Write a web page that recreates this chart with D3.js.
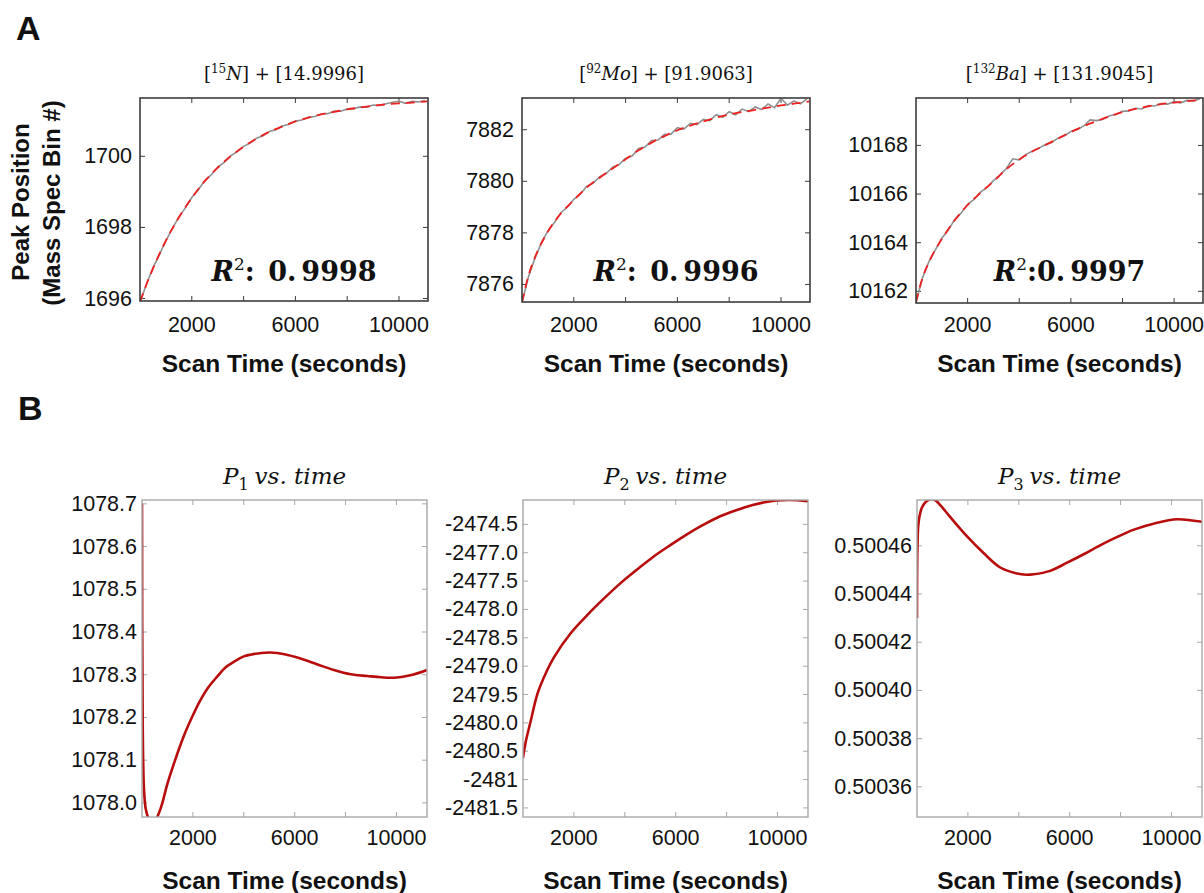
<!DOCTYPE html>
<html><head><meta charset="utf-8">
<script src="https://cdn.jsdelivr.net/npm/d3@7"></script>
<style>
html,body{margin:0;padding:0;background:#fff;}
svg{display:block;}
</style></head>
<body>
<svg id="chart" width="1204" height="893"></svg>
<script>
// ---------------- DATA ----------------
// Panel A: observed (gray) and fitted (red) peak positions
const obsTime = [0,250,500,750,1000,1250,1500,1750,2000,2250,2500,2750,3000,3250,3500,3750,4000,4250,4500,4750,5000,5250,5500,5750,6000,6250,6500,6750,7000,7250,7500,7750,8000,8250,8500,8750,9000,9250,9500,9750,10000,10250,10500,10750,11000];
const fitTime = [0,250,500,1000,1500,2000,2500,3000,3500,4000,4500,5000,5500,6000,6500,7000,7500,8000,8500,9000,9500,10000,10500,11000,11100];

const n15Obs = [1695.90,1696.40,1696.86,1697.24,1697.62,1697.97,1698.29,1698.55,1698.84,1699.06,1699.31,1699.48,1699.69,1699.83,1700.01,1700.13,1700.28,1700.37,1700.51,1700.58,1700.70,1700.75,1700.85,1700.90,1700.99,1701.02,1701.10,1701.12,1701.19,1701.20,1701.27,1701.27,1701.33,1701.34,1701.39,1701.38,1701.44,1701.43,1701.48,1701.52,1701.55,1701.49,1701.55,1701.53,1701.57];
const n15Fit = [1695.90,1696.40,1696.84,1697.63,1698.28,1698.83,1699.30,1699.68,1700.00,1700.27,1700.50,1700.69,1700.84,1700.98,1701.09,1701.18,1701.25,1701.32,1701.37,1701.42,1701.46,1701.49,1701.51,1701.54,1701.545];

const mo92Obs = [7875.30,7876.30,7877.02,7877.62,7878.08,7878.40,7878.78,7879.00,7879.30,7879.50,7879.80,7879.93,7880.18,7880.30,7880.55,7880.65,7880.90,7880.98,7881.27,7881.33,7881.58,7881.60,7881.82,7881.83,7882.08,7882.02,7882.25,7882.20,7882.40,7882.35,7882.58,7882.48,7882.70,7882.58,7882.80,7882.70,7882.88,7882.78,7883.00,7882.85,7883.22,7882.95,7883.12,7883.00,7883.20];
const mo92Fit = [7875.30,7876.35,7877.05,7878.05,7878.75,7879.27,7879.76,7880.14,7880.50,7880.85,7881.20,7881.50,7881.75,7881.98,7882.16,7882.32,7882.47,7882.59,7882.69,7882.77,7882.86,7882.94,7883.01,7883.08,7883.10];

const ba132Obs = [10161.55,10162.55,10163.22,10163.70,10164.18,10164.52,10164.95,10165.22,10165.58,10165.78,10166.08,10166.27,10166.55,10166.78,10167.05,10167.45,10167.40,10167.62,10167.76,10167.88,10168.03,10168.12,10168.30,10168.40,10168.57,10168.65,10168.80,10169.05,10169.02,10169.08,10169.22,10169.27,10169.40,10169.42,10169.53,10169.50,10169.64,10169.62,10169.72,10169.70,10169.80,10169.75,10169.85,10169.83,10169.92];
const ba132Fit = [10161.55,10162.55,10163.20,10164.15,10164.92,10165.55,10166.05,10166.52,10167.02,10167.42,10167.75,10168.01,10168.28,10168.55,10168.79,10169.00,10169.20,10169.37,10169.50,10169.61,10169.70,10169.76,10169.82,10169.87,10169.88];

const rSquared = ["0.9998","0.9996","0.9997"];
const yTicksA = [[1696,1698,1700],[7876,7878,7880,7882],[10162,10164,10166,10168]];

// Panel B: parameters vs. time
const p1Time = [0,30,80,150,250,400,550,750,1000,1300,1632,2000,2290,2600,2946,3300,3603,4000,4260,4700,5047,5600,6229,6900,7542,8200,8855,9400,9906,10500,11200];
const p1Vals = [1078.70,1078.17,1078.03,1077.985,1077.965,1077.955,1077.962,1077.99,1078.045,1078.10,1078.155,1078.205,1078.24,1078.27,1078.295,1078.318,1078.33,1078.343,1078.347,1078.351,1078.352,1078.348,1078.338,1078.324,1078.311,1078.301,1078.297,1078.294,1078.293,1078.298,1078.311];

const p2Time = [0,100,312,573,900,1222,1873,2524,3174,3824,4474,5124,5775,6427,7077,7727,8377,9027,9500,9939,10500,11200];
const p2Vals = [-2480.62,-2480.35,-2479.95,-2479.48,-2479.12,-2478.84,-2478.42,-2478.10,-2477.81,-2477.54,-2477.30,-2477.07,-2476.87,-2476.68,-2476.51,-2476.36,-2476.25,-2476.16,-2476.11,-2476.08,-2476.07,-2476.09];

const p3Time = [0,20,65,200,445,700,906,1300,1959,2616,3271,3928,4300,4584,5200,5900,6550,7212,7870,8525,9400,10236,10800,11200];
const p3Vals = [0.50043,0.50046,0.50047,0.500476,0.500479,0.500479,0.500477,0.500472,0.500464,0.500457,0.500451,0.5004485,0.500448,0.5004482,0.5004495,0.500453,0.5004565,0.5004603,0.5004637,0.5004667,0.5004695,0.500471,0.5004705,0.50047];

const p1Ticks = [1078.0,1078.1,1078.2,1078.3,1078.4,1078.5,1078.6,1078.7];
const p1Labels = ["1078.0","1078.1","1078.2","1078.3","1078.4","1078.5","1078.6","1078.7"];
const p2Ticks = [-2481.5,-2481.0,-2480.5,-2480.0,-2479.5,-2479.0,-2478.5,-2478.0,-2477.5,-2477.0,-2476.5];
const p2Labels = ["-2481.5","-2481","-2480.5","-2480.0","2479.5","-2479.0","-2478.5","-2478.0","-2477.5","-2477.0","-2474.5"];
const p3Ticks = [0.50036,0.50038,0.50040,0.50042,0.50044,0.50046];
const p3Labels = ["0.50036","0.50038","0.50040","0.50042","0.50044","0.50046"];

const xTicks = [2000,4000,6000,8000,10000];
const xLabeled = [2000,6000,10000];
const xTitle = "Scan Time (seconds)";

// ---------------- DRAW ----------------
const svg = d3.select("#chart");
const sans = "'Liberation Sans', Arial, sans-serif";
const mathSerif = "'DejaVu Serif', serif";
let clipId = 0;

function panel(o){
  const x = d3.scaleLinear().domain(o.xDomain).range([o.l, o.r]);
  const y = d3.scaleLinear().domain(o.yDomain).range([o.b, o.t]);
  const g = svg.append("g");
  const id = "clip" + (clipId++);
  g.append("clipPath").attr("id", id).append("rect")
    .attr("x", o.l).attr("y", o.t).attr("width", o.r - o.l).attr("height", o.b - o.t);

  const tl = 5;
  const fc = o.frameColor;
  const tg = g.append("g").attr("stroke", fc).attr("stroke-width", 1);
  xTicks.forEach(v => {
    tg.append("line").attr("x1", x(v)).attr("x2", x(v)).attr("y1", o.b).attr("y2", o.b - tl);
    tg.append("line").attr("x1", x(v)).attr("x2", x(v)).attr("y1", o.t).attr("y2", o.t + tl);
  });
  o.yTicks.forEach(v => {
    tg.append("line").attr("x1", o.l).attr("x2", o.l + tl).attr("y1", y(v)).attr("y2", y(v));
    tg.append("line").attr("x1", o.r).attr("x2", o.r - tl).attr("y1", y(v)).attr("y2", y(v));
  });

  xLabeled.forEach(v => {
    g.append("text").attr("x", x(v)).attr("y", o.xLabelY)
      .attr("text-anchor", "middle").attr("dominant-baseline", "central")
      .attr("font-family", sans).attr("font-size", 21.5).attr("fill", "#111").text(d3.format("d")(v));
  });
  o.yTicks.forEach((v, i) => {
    g.append("text").attr("x", o.l - o.yLabelGap).attr("y", y(v))
      .attr("text-anchor", "end").attr("dominant-baseline", "central")
      .attr("font-family", sans).attr("font-size", o.yFont).attr("fill", "#111").text(o.yLabels[i]);
  });

  g.append("text").attr("x", (o.l + o.r) / 2).attr("y", o.xTitleY)
    .attr("text-anchor", "middle").attr("dominant-baseline", "central")
    .attr("font-family", sans).attr("font-weight", "bold").attr("font-size", 24.5).attr("fill", "#111").text(xTitle);

  const lineGen = (xs, ys, c) => d3.line().curve(c)
    .x((d, i) => x(xs[i])).y((d, i) => y(ys[i]))(ys);
  const dg = g.append("g").attr("clip-path", `url(#${id})`);
  if (o.obs) {
    dg.append("path").attr("d", lineGen(obsTime, o.obs, d3.curveLinear)).attr("fill", "none")
      .attr("stroke", "#8f8f8f").attr("stroke-width", 1.6);
    dg.append("path").attr("d", lineGen(fitTime, o.fit, d3.curveMonotoneX)).attr("fill", "none")
      .attr("stroke", "#ee2020").attr("stroke-width", 1.8).attr("stroke-dasharray", "9,6");
  }
  if (o.curveT) {
    dg.append("path").attr("d", lineGen(o.curveT, o.curveV, d3.curveCatmullRom.alpha(0.5))).attr("fill", "none")
      .attr("stroke", "#b80d0d").attr("stroke-width", 2.6);
  }

  g.append("rect").attr("x", o.l).attr("y", o.t).attr("width", o.r - o.l).attr("height", o.b - o.t)
    .attr("fill", "none").attr("stroke", fc).attr("stroke-width", o.frameWidth);
  return {x, y, g};
}

// Panel letters
svg.append("text").attr("x", 16).attr("y", 40).attr("font-family", sans).attr("font-weight", "bold")
  .attr("font-size", 34).attr("fill", "#111").text("A");
svg.append("text").attr("x", 18).attr("y", 420).attr("font-family", sans).attr("font-weight", "bold")
  .attr("font-size", 34).attr("fill", "#111").text("B");

// Y title for panel A
svg.append("text").attr("transform", "translate(20,202) rotate(-90)")
  .attr("text-anchor", "middle").attr("dominant-baseline", "central")
  .attr("font-family", sans).attr("font-weight", "bold").attr("font-size", 24).attr("fill", "#111")
  .text("Peak Position");
svg.append("text").attr("transform", "translate(51,203) rotate(-90)")
  .attr("text-anchor", "middle").attr("dominant-baseline", "central")
  .attr("font-family", sans).attr("font-weight", "bold").attr("font-size", 24).attr("fill", "#111")
  .text("(Mass Spec Bin #)");

// Top row
const topBoxes = [
  {l:140, r:428, t:98, b:301, yDomain:[1695.93, 1701.64], obs:n15Obs, fit:n15Fit},
  {l:522, r:810, t:98, b:302, yDomain:[7875.32, 7883.23], obs:mo92Obs, fit:mo92Fit},
  {l:916, r:1203, t:98, b:303, yDomain:[10161.52, 10169.95], obs:ba132Obs, fit:ba132Fit}
];
const titleParts = [
  ["15","N","14.9996"],["92","Mo","91.9063"],["132","Ba","131.9045"]
];
topBoxes.forEach((bx, i) => {
  panel(Object.assign({
    xDomain:[0, 11120], yTicks:yTicksA[i], yLabels:yTicksA[i].map(String),
    frameColor:"#3c3c3c", frameWidth:1.6, xLabelY:325, xTitleY:363, yLabelGap:8, yFont:21.5
  }, bx));
  const cx = (bx.l + bx.r) / 2;
  const t = svg.append("text").attr("x", cx).attr("y", 80).attr("text-anchor", "middle")
    .attr("font-family", mathSerif).attr("font-size", 18).attr("fill", "#111");
  t.append("tspan").text("[");
  t.append("tspan").attr("font-size", 12).attr("dy", -7).text(titleParts[i][0]);
  t.append("tspan").attr("font-style", "italic").attr("dy", 7).text(titleParts[i][1]);
  t.append("tspan").text("] +  [" + titleParts[i][2] + "]");
  const r = svg.append("text").attr("x", (bx.l + bx.r) / 2 + 10).attr("y", 281).attr("text-anchor", "middle")
    .attr("font-family", mathSerif).attr("font-weight", "bold").attr("font-size", 27).attr("fill", "#111");
  r.append("tspan").attr("font-style", "italic").text("R");
  r.append("tspan").attr("font-size", 17).attr("font-weight", "normal").attr("dy", -11).text("2");
  r.append("tspan").attr("dy", 11).text(i === 2 ? ":" : ": ");
  r.append("tspan").attr("dx", i === 2 ? 0 : 4).text(rSquared[i].slice(0, 2));
  r.append("tspan").attr("dx", 5).text(rSquared[i].slice(2));
});

// Bottom row
const botBoxes = [
  {l:142, r:427, t:500, b:817, yDomain:[1077.967, 1078.709], yTicks:p1Ticks, yLabels:p1Labels, curveT:p1Time, curveV:p1Vals, sub:"1"},
  {l:523, r:808, t:500, b:817, yDomain:[-2481.66, -2476.07], yTicks:p2Ticks, yLabels:p2Labels, curveT:p2Time, curveV:p2Vals, sub:"2"},
  {l:917, r:1202, t:500, b:817, yDomain:[0.5003475, 0.500479], yTicks:p3Ticks, yLabels:p3Labels, curveT:p3Time, curveV:p3Vals, sub:"3"}
];
botBoxes.forEach((bx, i) => {
  panel(Object.assign({
    xDomain:[0, 11200], frameColor:"#a8a8a8", frameWidth:1.4, xLabelY:838, xTitleY:880, yLabelGap:5, yFont:21.5
  }, bx));
  const t = svg.append("text").attr("x", (bx.l + bx.r) / 2).attr("y", 484).attr("text-anchor", "middle")
    .attr("font-family", mathSerif).attr("font-style", "italic").attr("font-size", 23).attr("fill", "#111");
  t.append("tspan").text("P");
  t.append("tspan").attr("font-style", "normal").attr("font-size", 16).attr("dy", 6).text(bx.sub);
  t.append("tspan").attr("dy", -6).attr("dx", 6).text("vs. time");
});
</script>
</body></html>
